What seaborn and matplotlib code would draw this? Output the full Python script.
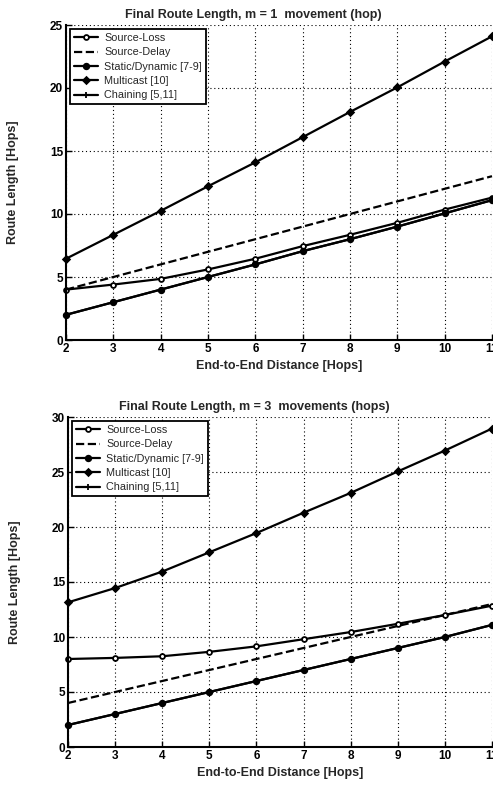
import matplotlib
matplotlib.use("Agg")
import matplotlib.pyplot as plt
import seaborn as sns
import numpy as np

sns.set_style("ticks")
plt.rcParams['font.family'] = ['Liberation Sans', 'DejaVu Sans']

distance = [2, 3, 4, 5, 6, 7, 8, 9, 10, 11]
series_names = ["Source-Loss", "Source-Delay", "Static/Dynamic [7-9]", "Multicast [10]", "Chaining [5,11]"]

# m = 1
m1_source_loss = [4.0, 4.4, 4.85, 5.6, 6.45, 7.45, 8.35, 9.3, 10.35, 11.3]
m1_source_delay = [4, 5, 6, 7, 8, 9, 10, 11, 12, 13]
m1_static = [2.0, 3.0, 4.0, 5.0, 6.0, 7.05, 8.0, 9.0, 10.05, 11.1]
m1_multicast = [6.45, 8.35, 10.25, 12.2, 14.1, 16.1, 18.1, 20.05, 22.1, 24.1]
m1_chaining = [2.0, 3.0, 4.0, 5.0, 6.0, 7.05, 8.0, 9.0, 10.05, 11.1]

# m = 3
m3_source_loss = [8.0, 8.1, 8.25, 8.65, 9.15, 9.8, 10.45, 11.2, 12.0, 12.85]
m3_source_delay = [4, 5, 6, 7, 8, 9, 10, 11, 12, 13]
m3_static = [2.0, 3.0, 4.0, 5.0, 6.0, 7.0, 8.0, 9.0, 10.0, 11.1]
m3_multicast = [13.15, 14.45, 15.95, 17.7, 19.45, 21.3, 23.1, 25.05, 26.95, 28.95]
m3_chaining = [2.0, 3.0, 4.0, 5.0, 6.0, 7.0, 8.0, 9.0, 10.0, 11.1]

titles = ["Final Route Length, m = 1  movement (hop)",
          "Final Route Length, m = 3  movements (hops)"]
y_ticks_top = [0, 5, 10, 15, 20, 25]
y_ticks_bot = [0, 5, 10, 15, 20, 25, 30]
xlabel = "End-to-End Distance [Hops]"
ylabel = "Route Length [Hops]"

styles = [
    dict(marker='o', linestyle='-', markerfacecolor='white', markersize=3.5),
    dict(marker=None, linestyle='--', markersize=0),
    dict(marker='o', linestyle='-', markerfacecolor='black', markersize=4),
    dict(marker='D', linestyle='-', markerfacecolor='black', markersize=3.5),
    dict(marker='+', linestyle='-', markerfacecolor='black', markersize=4),
]

fig = plt.figure(figsize=(4.93, 7.90), dpi=100)
ax1 = fig.add_axes([66/493, 1-340/790, (492-66)/493, (340-25)/790])
ax2 = fig.add_axes([68/493, 1-747/790, (492-68)/493, (747-417)/790])

datasets = [
    (ax1, [m1_source_loss, m1_source_delay, m1_static, m1_multicast, m1_chaining], y_ticks_top, titles[0]),
    (ax2, [m3_source_loss, m3_source_delay, m3_static, m3_multicast, m3_chaining], y_ticks_bot, titles[1]),
]

for ax, ys, yt, title in datasets:
    for name, y, st in zip(series_names, ys, styles):
        sns.lineplot(x=distance, y=y, ax=ax, color='black', linewidth=1.6,
                     linestyle=st['linestyle'], marker=st['marker'],
                     markersize=st['markersize'],
                     markerfacecolor=st.get('markerfacecolor', 'black'),
                     markeredgecolor='black', markeredgewidth=1.3,
                     label=name, clip_on=False)
    ax.set_xlim(2, 11)
    ax.set_ylim(yt[0], yt[-1])
    ax.set_xticks(distance)
    ax.set_xticklabels([str(d) for d in distance], fontweight='bold', fontsize=8.5)
    ax.set_yticks(yt)
    ax.set_yticklabels([str(v) for v in yt], fontweight='bold', fontsize=8.5)
    ax.grid(True, color='black', linestyle=(0, (1, 2.5)), linewidth=0.8)
    ax.set_axisbelow(True)
    for s in ['top', 'right']:
        ax.spines[s].set_visible(False)
    for s in ['left', 'bottom']:
        ax.spines[s].set_linewidth(1.5)
        ax.spines[s].set_color('black')
    ax.tick_params(direction='in', length=4, width=1, pad=2, colors='black')
    ax.set_title(title, fontsize=9, fontweight='bold', pad=5, x=0.44)
    ax.set_xlabel(xlabel, fontsize=9, fontweight='bold', labelpad=4)
    ax.set_ylabel(ylabel, fontsize=9, fontweight='bold', labelpad=22)
    leg = ax.legend(loc='upper left', fontsize=7.8, frameon=True, fancybox=False,
                    edgecolor='black', framealpha=1, handlelength=2.2,
                    borderpad=0.35, labelspacing=0.4, handletextpad=0.6,
                    borderaxespad=0.4)
    leg.get_frame().set_linewidth(1.3)

fig.savefig("out.png", dpi=100)
